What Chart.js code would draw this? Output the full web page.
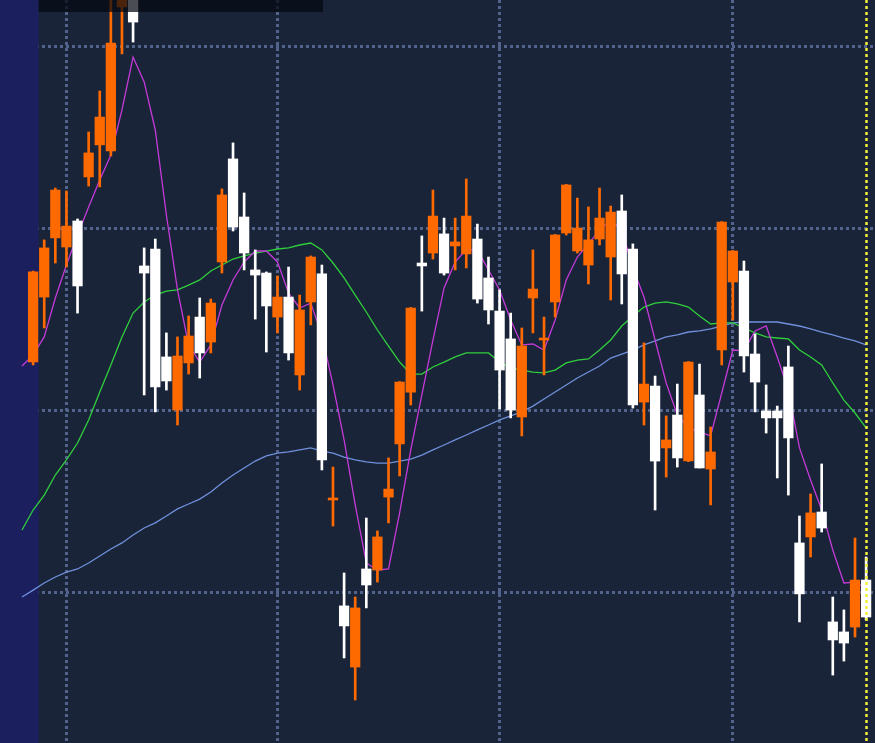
<!DOCTYPE html>
<html>
<head>
<meta charset="utf-8">
<script src="https://cdn.jsdelivr.net/npm/chart.js@4.4.1/dist/chart.umd.min.js"></script>
<style>
  html, body { margin: 0; padding: 0; background: #1a2438; overflow: hidden; }
  #wrap { position: relative; width: 875px; height: 743px; }
</style>
</head>
<body>
<div id="wrap"><canvas id="c"></canvas></div>
<script>
// ---- Data (candle index 1..76; index 0 carries only moving-average values) ----
const opens = [112.69,116.26,119.51,119.01,120.44,122.86,124.62,124.29,132.20,133.13,
  117.97,118.90,112.97,110.05,112.64,115.16,113.79,118.19,123.85,120.66,
  117.75,117.58,115.16,116.26,111.98,115.99,117.53,105.11,99.29,95.93,
  101.32,101.26,105.27,108.19,111.04,118.13,118.68,119.73,119.07,118.63,
  119.45,117.31,115.49,113.96,109.67,116.21,113.90,115.99,119.78,118.79,
  118.02,119.45,118.46,120.99,118.90,110.49,111.37,107.97,109.78,107.25,
  110.88,106.81,113.35,117.09,117.69,113.13,110.00,110.00,112.42,102.75,
  103.08,104.45,98.41,97.86,98.13,100.71];
const closes = [117.64,118.96,122.14,120.16,116.87,124.18,126.15,130.22,133.02,131.37,
  117.58,111.32,111.65,113.02,114.12,113.19,115.93,121.87,120.11,118.68,
  117.47,115.77,116.26,113.19,115.55,118.46,107.31,105.22,98.19,99.18,
  100.44,103.08,105.71,111.59,115.66,117.97,120.71,117.58,119.29,120.71,
  116.15,115.55,112.25,110.05,113.57,116.70,114.01,119.67,122.42,120.05,
  119.40,120.60,120.93,117.53,110.33,111.48,107.25,108.41,107.42,112.69,
  106.87,107.75,120.38,118.79,113.02,111.59,109.62,109.62,108.52,99.95,
  104.40,103.57,97.42,97.25,100.71,98.68];
const highs = [117.69,119.40,122.25,122.09,120.55,125.33,127.58,132.86,133.68,133.41,
  118.96,119.45,114.29,114.07,115.22,116.21,116.15,122.20,124.73,121.98,
  118.85,117.64,117.42,117.91,116.37,118.52,118.02,106.92,101.10,99.78,
  104.12,103.41,107.42,111.62,115.69,119.62,122.14,120.60,120.60,122.75,
  120.27,118.46,116.65,115.38,114.56,118.85,115.16,119.70,122.45,121.70,
  121.21,122.25,121.26,121.87,119.18,113.74,111.92,109.73,111.48,112.72,
  112.58,109.12,120.41,118.82,118.24,114.23,111.43,110.27,113.57,104.23,
  105.44,107.09,99.78,99.07,103.02,101.98];
const lows = [112.53,114.56,118.13,117.91,115.38,122.36,122.31,124.01,129.62,130.27,
  110.88,109.95,111.15,109.23,112.03,111.81,113.19,117.58,119.89,117.75,
  115.05,113.24,114.29,112.80,111.15,114.73,106.76,103.68,96.43,94.12,
  99.18,100.60,103.85,106.43,110.33,115.49,118.35,117.47,117.75,117.86,
  115.93,114.78,110.11,109.62,108.63,114.29,111.98,115.16,119.67,118.68,
  116.98,119.12,116.10,115.88,110.16,109.23,104.56,106.37,106.92,107.22,
  106.87,104.84,112.53,115.00,112.14,109.95,108.79,106.32,105.38,98.41,
  101.98,103.35,95.49,96.26,97.58,98.52];

const maShort = [112.47,113.08,114.07,116.21,118.02,119.67,121.21,122.69,124.07,126.54,129.45,
  128.08,125.44,120.77,116.65,113.63,112.69,113.63,115.82,117.20,118.19,
  118.79,118.79,118.19,116.48,115.66,115.93,114.18,111.43,108.41,104.84,
  101.65,101.26,101.32,104.40,107.86,110.88,113.90,116.76,118.19,118.85,
  118.85,117.75,116.65,115.00,113.63,113.68,113.35,115.00,117.20,118.46,
  119.18,119.95,120.49,119.95,117.86,116.26,113.90,111.54,109.78,109.07,
  108.85,108.63,110.99,113.35,113.30,114.40,114.67,112.97,111.15,107.97,
  106.21,104.56,102.36,100.55,100.60,100.27];
const maMid = [103.46,104.56,105.38,106.48,107.31,108.24,109.51,111.04,112.53,114.07,115.38,
  115.99,116.37,116.59,116.65,116.92,117.20,117.69,118.02,118.35,118.52,
  118.68,118.79,118.90,118.96,119.12,119.23,118.85,118.13,117.31,116.37,
  115.44,114.45,113.57,112.69,112.03,112.03,112.42,112.69,112.97,113.19,
  113.19,113.19,112.69,112.36,112.25,112.14,112.09,112.25,112.64,112.80,
  112.86,113.35,113.90,114.67,115.22,115.71,115.93,115.99,115.88,115.71,
  115.22,114.78,114.84,114.84,114.56,114.29,114.07,114.01,113.96,113.35,
  112.97,112.53,111.54,110.60,109.89,109.07];
const maLong = [99.78,100.16,100.55,100.88,101.15,101.32,101.65,102.03,102.42,102.75,103.19,
  103.57,103.85,104.23,104.62,104.89,105.16,105.55,106.04,106.48,106.87,
  107.25,107.53,107.69,107.75,107.86,107.97,107.80,107.69,107.47,107.31,
  107.20,107.14,107.14,107.25,107.36,107.58,107.86,108.13,108.41,108.68,
  108.96,109.23,109.51,109.73,109.95,110.27,110.66,111.04,111.43,111.81,
  112.14,112.47,112.91,113.13,113.35,113.63,113.85,114.07,114.18,114.34,
  114.40,114.51,114.67,114.84,114.89,114.89,114.89,114.89,114.78,114.67,
  114.51,114.34,114.18,114.01,113.85,113.63];

const priceGrid = [100, 110, 120, 130];
const monthStartIdx = [4, 23, 43, 64];

// ---- Styles ----
const UP = '#ff6a00', DOWN = '#ffffff';
const BG = '#1a2438', STRIP = '#1b1f5e', GRID = '#52638c';

const candleIdx = opens.map((_, i) => i + 1);
const isUp = opens.map((o, i) => closes[i] >= o);
const bodyData = candleIdx.map((x, i) => ({ x, y: [opens[i], closes[i]] }));
const wickData = candleIdx.map((x, i) => ({ x, y: [lows[i], highs[i]] }));
const colors = isUp.map(u => u ? UP : DOWN);
const toPts = arr => arr.map((y, i) => ({ x: i, y }));

const decor = {
  id: 'decor',
  beforeDraw(chart) {
    const { ctx } = chart;
    ctx.save();
    ctx.fillStyle = BG;
    ctx.fillRect(0, 0, chart.width, chart.height);
    ctx.restore();
  },
  beforeDatasetsDraw(chart) {
    const { ctx, scales: { x }, chartArea: a } = chart;
    ctx.save();
    ctx.fillStyle = STRIP;
    ctx.fillRect(a.left, a.top, x.getPixelForValue(1.5) - a.left, a.bottom - a.top);
    ctx.restore();
  },
  afterDatasetsDraw(chart) {
    const { ctx, scales: { x }, chartArea: a } = chart;
    ctx.save();
    ctx.fillStyle = 'rgba(4,8,16,0.72)';
    const l = x.getPixelForValue(1.5), r = x.getPixelForValue(27.1);
    ctx.fillRect(l, a.top, r - l, 12);
    const px = Math.round(x.getPixelForValue(76)) + 0.5;
    ctx.strokeStyle = '#f4f03a';
    ctx.lineWidth = 2.5;
    ctx.setLineDash([3, 3]);
    ctx.beginPath();
    ctx.moveTo(px, a.top);
    ctx.lineTo(px, a.bottom);
    ctx.stroke();
    ctx.restore();
  }
};

new Chart(document.getElementById('c'), {
  data: {
    datasets: [
      { type: 'bar', label: 'body', data: bodyData, backgroundColor: colors,
        borderWidth: 0, barThickness: 9.6, grouped: false, order: 1, minBarLength: 1 },
      { type: 'bar', label: 'wick', data: wickData, backgroundColor: colors,
        borderWidth: 0, barThickness: 2, grouped: false, order: 2 },
      { type: 'line', label: 'MA short', data: toPts(maShort), borderColor: '#c43ad8',
        borderWidth: 1.3, pointRadius: 0, tension: 0, order: 3 },
      { type: 'line', label: 'MA mid', data: toPts(maMid), borderColor: '#2fcf3c',
        borderWidth: 1.3, pointRadius: 0, tension: 0, order: 3 },
      { type: 'line', label: 'MA long', data: toPts(maLong), borderColor: '#6f90dc',
        borderWidth: 1.3, pointRadius: 0, tension: 0, order: 3 }
    ]
  },
  options: {
    responsive: true,
    maintainAspectRatio: false,
    animation: false,
    layout: { padding: 0 },
    plugins: { legend: { display: false }, tooltip: { enabled: false } },
    scales: {
      x: {
        type: 'linear', min: -1.981, max: 76.8, offset: false,
        ticks: { display: false },
        grid: { color: GRID, lineWidth: 3, drawTicks: false, offset: false },
        border: { display: false, dash: [3, 3] },
        afterBuildTicks: s => { s.ticks = monthStartIdx.map(v => ({ value: v })); }
      },
      y: {
        type: 'linear', min: 91.758, max: 132.582,
        ticks: { display: false },
        grid: { color: GRID, lineWidth: 3, drawTicks: false, offset: false },
        border: { display: false, dash: [3, 3] },
        afterBuildTicks: s => { s.ticks = priceGrid.map(v => ({ value: v })); }
      }
    }
  },
  plugins: [decor]
});
</script>
</body>
</html>
